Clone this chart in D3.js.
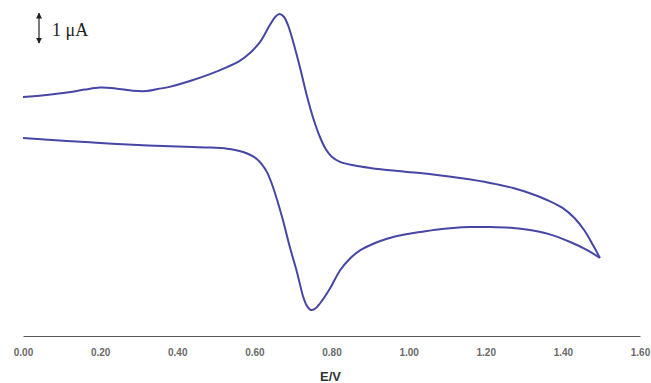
<!DOCTYPE html>
<html>
<head>
<meta charset="utf-8">
<script src="https://cdn.jsdelivr.net/npm/d3@7"></script>
<style>
  body { margin: 0; background: #fff; }
  svg { display: block; }
</style>
</head>
<body>
<svg id="chart" width="651" height="383"></svg>
<script>
// potential (V) and current (uA), in scan order
const fwdE = [0.00, 0.06, 0.114, 0.16, 0.20, 0.24, 0.285, 0.32, 0.35, 0.38, 0.441, 0.49, 0.529, 0.56, 0.59, 0.615, 0.641, 0.655, 0.666, 0.677, 0.688, 0.70, 0.718, 0.737, 0.752, 0.770, 0.785, 0.80, 0.822, 0.86, 0.90, 0.96, 1.03, 1.133, 1.211, 1.271, 1.32, 1.359, 1.40, 1.43, 1.455, 1.478, 1.496];
const fwdI = [3.43, 3.50, 3.58, 3.68, 3.75, 3.72, 3.64, 3.63, 3.70, 3.77, 4.00, 4.22, 4.43, 4.62, 4.92, 5.27, 5.85, 6.12, 6.20, 6.10, 5.80, 5.30, 4.43, 3.43, 2.75, 2.10, 1.70, 1.45, 1.27, 1.15, 1.07, 0.98, 0.90, 0.73, 0.57, 0.40, 0.20, 0.00, -0.27, -0.60, -1.00, -1.50, -1.93];

const revE = [1.496, 1.463, 1.419, 1.36, 1.31, 1.271, 1.211, 1.16, 1.115, 1.07, 1.030, 0.99, 0.944, 0.91, 0.874, 0.848, 0.822, 0.796, 0.770, 0.756, 0.745, 0.735, 0.726, 0.711, 0.692, 0.674, 0.659, 0.645, 0.633, 0.62, 0.607, 0.59, 0.571, 0.55, 0.529, 0.48, 0.441, 0.381, 0.285, 0.200, 0.114, 0.00];
const revI = [-1.93, -1.67, -1.40, -1.12, -0.99, -0.93, -0.90, -0.90, -0.93, -0.99, -1.07, -1.15, -1.29, -1.45, -1.68, -1.95, -2.35, -2.95, -3.45, -3.64, -3.66, -3.50, -3.20, -2.43, -1.57, -0.67, 0.00, 0.55, 0.92, 1.18, 1.36, 1.50, 1.60, 1.67, 1.71, 1.75, 1.77, 1.79, 1.84, 1.90, 1.97, 2.07];

const xTicks = [0, 0.2, 0.4, 0.6, 0.8, 1.0, 1.2, 1.4, 1.6];
const scaleBar = [5.23, 6.23]; // 1 uA
const scaleLabel = '1 \u03bcA';
const xLabel = 'E/V';

const svg = d3.select('#chart');

const xScale = d3.scaleLinear()
                .domain([0, 1.6])
                .range([23, 640]);
const yScale = d3.scaleLinear()
                .domain([-4, 6])
                .range([320, 20]);

// x axis: plain line with bold grey labels, no ticks
const xAxis = d3.axisBottom(xScale)
                .tickValues(xTicks)
                .tickFormat(d3.format('.2f'))
                .tickSize(0)
                .tickPadding(13);
const axisG = svg.append('g')
    .attr('class', 'axis axis--x')
    .attr('transform', 'translate(0, 336)')
    .call(xAxis);
axisG.select('.domain')
    .attr('stroke', '#555')
    .attr('stroke-width', 1.2);
axisG.selectAll('text')
    .attr('fill', '#6a6a6a')
    .attr('font-family', 'Liberation Sans, Arial, sans-serif')
    .attr('font-weight', 'bold')
    .attr('font-size', 10);

svg.append('text')
    .attr('x', 320)
    .attr('y', 381)
    .attr('font-family', 'Liberation Sans, Arial, sans-serif')
    .attr('font-weight', 'bold')
    .attr('font-size', 13)
    .attr('fill', '#333')
    .text(xLabel);

// curves, one path per scan direction
const line = d3.line()
    .x(d => xScale(d[0]))
    .y(d => yScale(d[1]))
    .curve(d3.curveCatmullRom.alpha(0.5));

[[fwdE, fwdI], [revE, revI]].forEach(([es, is]) => {
    svg.append('path')
        .datum(es.map((e, i) => [e, is[i]]))
        .attr('fill', 'none')
        .attr('stroke', '#4646a6')
        .attr('stroke-width', 2)
        .attr('stroke-linejoin', 'round')
        .attr('d', line);
});

// scale bar
const defs = svg.append('defs');
defs.append('marker')
    .attr('id', 'arr')
    .attr('viewBox', '0 0 10 10')
    .attr('refX', 9).attr('refY', 5)
    .attr('markerWidth', 5).attr('markerHeight', 5)
    .attr('orient', 'auto-start-reverse')
  .append('path')
    .attr('d', 'M0,0 L10,5 L0,10 z')
    .attr('fill', '#222');

svg.append('line')
    .attr('x1', 39).attr('x2', 39)
    .attr('y1', yScale(scaleBar[1]))
    .attr('y2', yScale(scaleBar[0]))
    .attr('stroke', '#222')
    .attr('stroke-width', 1.2)
    .attr('marker-start', 'url(#arr)')
    .attr('marker-end', 'url(#arr)');

svg.append('text')
    .attr('x', 52)
    .attr('y', 36)
    .attr('font-family', 'Liberation Serif, Times New Roman, serif')
    .attr('font-size', 18)
    .attr('fill', '#222')
    .text(scaleLabel);
</script>
</body>
</html>
